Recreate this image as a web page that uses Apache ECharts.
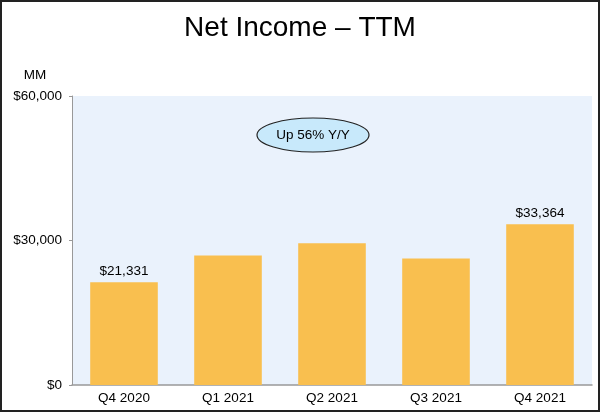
<!DOCTYPE html>
<html>
<head>
<meta charset="utf-8">
<script src="https://cdn.jsdelivr.net/npm/echarts@6/dist/echarts.min.js"></script>
<style>
html,body{margin:0;padding:0;background:#fff;}
#c{width:600px;height:412px;}
</style>
</head>
<body>
<div id="c"></div>
<script>
const categories = ['Q4 2020', 'Q1 2021', 'Q2 2021', 'Q3 2021', 'Q4 2021'];
const netIncomeTTM = [21331, 26903, 29438, 26263, 33364];
const labeledBars = [true, false, false, false, true];
const yTicks = [0, 30000, 60000];
const titleText = 'Net Income \u2013 TTM';
const unitText = 'MM';
const calloutText = 'Up 56% Y/Y';

function fmt(v) { return '$' + v.toLocaleString('en-US'); }

const FF = 'Liberation Sans, Arial, sans-serif';
const chart = echarts.init(document.getElementById('c'));
chart.setOption({
  backgroundColor: '#ffffff',
  animation: false,
  textStyle: { fontFamily: FF },
  title: {
    text: titleText,
    left: 'center',
    top: 9,
    textStyle: { fontSize: 28, fontWeight: 'normal', color: '#000', fontFamily: FF }
  },
  grid: {
    left: 72, right: 8, top: 96, bottom: 27,
    show: true, backgroundColor: '#eaf2fc', borderWidth: 0
  },
  xAxis: {
    type: 'category',
    data: categories,
    axisLine: { lineStyle: { color: '#999', width: 1.5 } },
    axisTick: { alignWithLabel: true, length: 3, lineStyle: { color: '#999' } },
    axisLabel: { color: '#000', fontSize: 13.5, margin: 6 }
  },
  yAxis: {
    type: 'value',
    name: unitText,
    nameLocation: 'end',
    nameGap: 14,
    nameTextStyle: { color: '#000', fontSize: 13.5, align: 'center', padding: [0, 74, 0, 0] },
    min: yTicks[0], max: yTicks[yTicks.length - 1], interval: yTicks[1] - yTicks[0],
    axisLine: { show: true, lineStyle: { color: '#999', width: 1 } },
    axisTick: { show: true, length: 3, lineStyle: { color: '#999' } },
    splitLine: { show: false },
    axisLabel: { color: '#000', fontSize: 13.5, margin: 10, formatter: fmt }
  },
  series: [{
    type: 'bar',
    barWidth: '65%',
    itemStyle: { color: '#f9bf4f' },
    data: netIncomeTTM.map((v, i) => ({
      value: v,
      label: { show: labeledBars[i], position: 'top', distance: 4, color: '#000', fontSize: 13.5, formatter: p => fmt(p.value) }
    }))
  }],
  graphic: [
    {
      type: 'ellipse',
      shape: { cx: 313, cy: 135, rx: 56, ry: 17 },
      style: { fill: '#c8e9fb', stroke: '#222', lineWidth: 1.2 },
      z: 10
    },
    {
      type: 'text',
      x: 313, y: 135,
      style: { text: calloutText, fill: '#000', fontSize: 13.5, align: 'center', verticalAlign: 'middle', fontFamily: FF },
      z: 11
    },
    {
      type: 'rect',
      shape: { x: 1, y: 1, width: 598, height: 410 },
      style: { fill: 'none', stroke: '#222', lineWidth: 2 },
      z: 20
    }
  ]
});
</script>
</body>
</html>
